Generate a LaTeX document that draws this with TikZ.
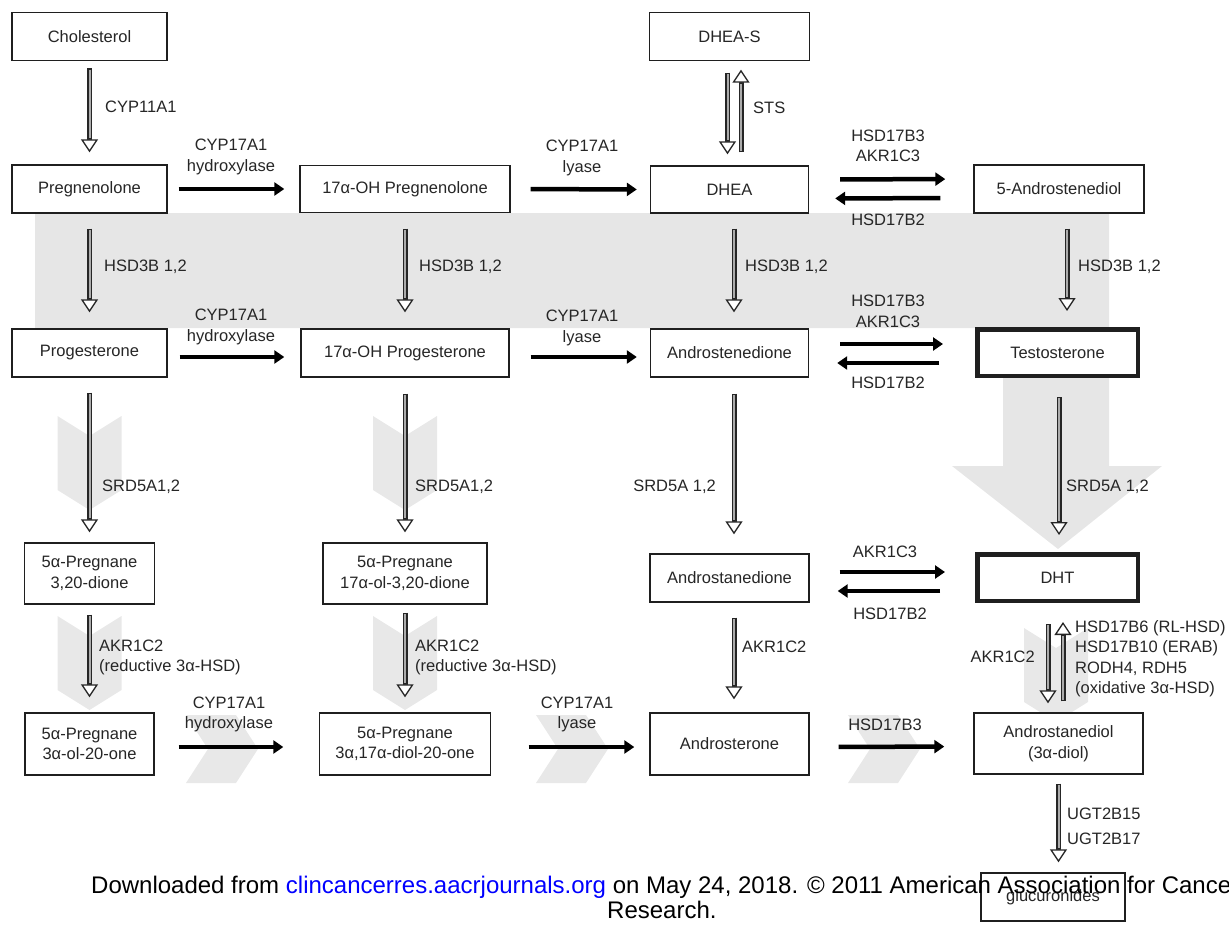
\documentclass[tikz,border=0pt]{standalone}
\usepackage{fontspec}
\setmainfont{Liberation Sans}
\usetikzlibrary{arrows.meta,calc}
\definecolor{bandgray}{HTML}{E6E6E6}
\definecolor{chevgray}{HTML}{E8E8E8}
\definecolor{txt}{HTML}{262626}
\definecolor{linkblue}{HTML}{0000FF}
\newcommand\lbl{\fontsize{16.5}{20.5}\selectfont}
\newcommand\footfont{\fontsize{24}{28}\selectfont}
\tikzset{
 box/.style={draw=black!88, line width=1.4pt, fill=white, inner sep=0pt, align=center, text=txt, font=\lbl},
 thickbox/.style={box, line width=4.5pt},
 lab/.style={inner sep=0pt, text=txt, font=\lbl},
 harr/.style={line width=4.5pt, black, -{Triangle[length=10pt,width=13pt]}},
 vout/.style={line width=5pt, black!85, -{Triangle[length=13pt,width=17pt,line width=1.3pt,fill=white]}},
 vin/.style={line width=2pt, gray!65},
}
\newcommand\VArr[4]{%
 \draw[vout, shorten <=#3, shorten >=#4] #1 -- #2;
 \draw[vin, shorten <=#3+1.3pt, shorten >=#4+14pt] #1 -- #2;}
\newcommand\VChev[2]{\fill[chevgray] ({#1-32},#2) -- (#1,{#2+20}) -- ({#1+32},#2) -- ({#1+32},{#2+74}) -- (#1,{#2+94}) -- ({#1-32},{#2+74}) -- cycle;}
\newcommand\HChev[2]{\fill[chevgray] (#1,#2) -- ({#1+50},#2) -- ({#1+72},{#2+34}) -- ({#1+50},{#2+68}) -- (#1,{#2+68}) -- ({#1+22},{#2+34}) -- cycle;}
\begin{document}
\begin{tikzpicture}[x=1pt,y=-1pt]
\useasboundingbox (0,0) rectangle (1229,924);
% background band and big arrow
\fill[bandgray] (35,213) -- (1109,213) -- (1109,466) -- (1162,466) -- (1058,549) -- (952,466) -- (1003,466) -- (1003,328) -- (35,328) -- cycle;
% chevrons
\VChev{89.5}{416}
\VChev{89.5}{616}
\VChev{405}{416}
\VChev{405}{616}
\VChev{1056}{628}
\HChev{186}{715}
\HChev{536}{715}
\HChev{848}{715}
% boxes column 1
\node[box, minimum width=155pt, minimum height=48pt] (chol) at (89.5,36.5) {Cholesterol};
\node[box, minimum width=155pt, minimum height=48pt] (preg) at (89.5,189) {Pregnenolone};
\node[box, minimum width=155pt, minimum height=48pt] (prog) at (89.5,353) {Progesterone};
\node[box, minimum width=130pt, minimum height=61pt] (p320) at (89.5,573.5) {5α-Pregnane\\3,20-dione};
\node[box, minimum width=129pt, minimum height=62pt] (p3ol) at (89.5,744) {5α-Pregnane\\3α-ol-20-one};
% column 2
\node[box, minimum width=210pt, minimum height=47pt] (ohpreg) at (405,189) {17α-OH Pregnenolone};
\node[box, minimum width=208pt, minimum height=48pt] (ohprog) at (405,353) {17α-OH Progesterone};
\node[box, minimum width=164pt, minimum height=61pt] (p17) at (405,573.5) {5α-Pregnane\\17α-ol-3,20-dione};
\node[box, minimum width=171pt, minimum height=62pt] (p3a17) at (405,744) {5α-Pregnane\\3α,17α-diol-20-one};
% column 3
\node[box, minimum width=160pt, minimum height=48pt] (dheas) at (729.5,36.5) {DHEA-S};
\node[box, minimum width=158pt, minimum height=47pt] (dhea) at (729.5,189.5) {DHEA};
\node[box, minimum width=158pt, minimum height=48pt] (adione) at (729.5,353) {Androstenedione};
\node[box, minimum width=159pt, minimum height=48pt] (astane) at (729.5,578) {Androstanedione};
\node[box, minimum width=159pt, minimum height=62pt] (andro) at (729.5,744) {Androsterone};
% column 4
\node[box, minimum width=170pt, minimum height=48pt] (adiol5) at (1059,189) {5-Androstenediol};
\node[thickbox, minimum width=160.5pt, minimum height=46.5pt] (testo) at (1057.5,352.5) {Testosterone};
\node[thickbox, minimum width=160.5pt, minimum height=46.5pt] (dht) at (1057.5,577.5) {DHT};
\node[box, minimum width=169pt, minimum height=61pt] (adiol) at (1058.5,743.5) {Androstanediol\\(3α-diol)};
\node[box, minimum width=144pt, minimum height=48pt] (gluc) at (1053,897) {glucuronides};
% vertical arrows
\VArr{(chol.south)}{(preg.north)}{7pt}{12pt}
\VArr{(preg.south)}{(prog.north)}{15pt}{16pt}
\VArr{(prog.south)}{(p320.north)}{15pt}{10pt}
\VArr{(p320.south)}{(p3ol.north)}{10pt}{15pt}
\VArr{(ohpreg.south)}{(ohprog.north)}{15.5pt}{16pt}
\VArr{(ohprog.south)}{(p17.north)}{16pt}{10pt}
\VArr{(p17.south)}{(p3a17.north)}{8pt}{15pt}
\VArr{([xshift=-2pt]dheas.south)}{([xshift=-2pt]dhea.north)}{11.5pt}{11pt}
\VArr{([xshift=11.5pt]dhea.north)}{([xshift=11.5pt]dheas.south)}{13pt}{8.5pt}
\VArr{([xshift=4.5pt]dhea.south)}{([xshift=4.5pt]adione.north)}{15pt}{16pt}
\VArr{([xshift=4.5pt]adione.south)}{([xshift=4.5pt]astane.north)}{16pt}{19pt}
\VArr{([xshift=4.5pt]astane.south)}{([xshift=4.5pt]andro.north)}{15pt}{13pt}
\VArr{([xshift=8pt]adiol5.south)}{([xshift=9.5pt]testo.north)}{15pt}{16pt}
\VArr{([xshift=1.5pt]testo.south)}{([xshift=1.5pt]dht.north)}{19pt}{17pt}
\VArr{([xshift=-9.5pt]dht.south)}{([xshift=-10.5pt]adiol.north)}{21pt}{9pt}
\VArr{([xshift=4.5pt]adiol.north)}{([xshift=5.5pt]dht.south)}{11pt}{19pt}
\VArr{(adiol.south)}{(adiol.south |- gluc.north)}{9pt}{10pt}
% horizontal arrows
\draw[harr, shorten <=11pt, shorten >=15pt] (preg.east) -- (ohpreg.west);
\draw[harr, shorten <=20pt, shorten >=13pt] (ohpreg.east) -- (dhea.west);
\draw[harr, shorten <=31pt, shorten >=28pt] ([yshift=10pt]dhea.east) -- ([yshift=10pt]adiol5.west);
\draw[harr, shorten <=33pt, shorten >=26pt] ([yshift=-9pt]adiol5.west) -- ([yshift=-9pt]dhea.east);
\draw[harr, shorten <=12pt, shorten >=16pt] ([yshift=-4pt]prog.east) -- ([yshift=-4pt]ohprog.west);
\draw[harr, shorten <=21pt, shorten >=13pt] ([yshift=-4pt]ohprog.east) -- ([yshift=-4pt]adione.west);
\draw[harr, shorten <=31pt, shorten >=32pt] ([yshift=9pt]adione.east) -- ([yshift=8.5pt]testo.west);
\draw[harr, shorten <=36pt, shorten >=28pt] ([yshift=-10.5pt]testo.west) -- ([yshift=-10pt]adione.east);
\draw[harr, shorten <=30pt, shorten >=30pt] ([yshift=6pt]astane.east) -- ([yshift=5.5pt]dht.west);
\draw[harr, shorten <=35pt, shorten >=28pt] ([yshift=-13.5pt]dht.west) -- ([yshift=-13pt]astane.east);
\draw[harr, shorten <=24pt, shorten >=35.5pt] ([yshift=-3pt]p3ol.east) -- ([yshift=-3pt]p3a17.west);
\draw[harr, shorten <=37.5pt, shorten >=15pt] ([yshift=-3pt]p3a17.east) -- ([yshift=-3pt]andro.west);
\draw[harr, shorten <=29pt, shorten >=29pt] ([yshift=-3pt]andro.east) -- ([yshift=-3pt]adiol.west);
% labels
\node[lab, anchor=west] (l1) at (105,107) {CYP11A1};
\node[lab, align=center] (l2) at (231,157) {CYP17A1\\hydroxylase};
\node[lab, align=center] (l3) at (582,158) {CYP17A1\\lyase};
\node[lab, anchor=west] (l4) at (753,108) {STS};
\node[lab, align=center] (l5) at (888,146) {HSD17B3\\AKR1C3};
\node[lab] (l6) at (888,220) {HSD17B2};
\node[lab, anchor=west] (l7) at (104,267) {HSD3B 1,2};
\node[lab, anchor=west] (l8) at (419,267) {HSD3B 1,2};
\node[lab, anchor=west] (l9) at (745,267) {HSD3B 1,2};
\node[lab, anchor=west] (l10) at (1078,267) {HSD3B 1,2};
\node[lab, align=center] (l11) at (231,327) {CYP17A1\\hydroxylase};
\node[lab, align=center] (l12) at (582,328) {CYP17A1\\lyase};
\node[lab, align=center] (l13) at (888,311.5) {HSD17B3\\AKR1C3};
\node[lab] (l14) at (888,383) {HSD17B2};
\node[lab, anchor=west] (l15) at (102,487) {SRD5A1,2};
\node[lab, anchor=west] (l16) at (415,487) {SRD5A1,2};
\node[lab, anchor=east] (l17) at (716,487) {SRD5A 1,2};
\node[lab, anchor=west] (l18) at (1066,487) {SRD5A 1,2};
\node[lab] (l19) at (885,552) {AKR1C3};
\node[lab] (l20) at (890,614) {HSD17B2};
\node[lab, anchor=west, align=left] (l21) at (99,657.5) {AKR1C2\\(reductive 3α-HSD)};
\node[lab, anchor=west, align=left] (l22) at (415,657.5) {AKR1C2\\(reductive 3α-HSD)};
\node[lab, anchor=west] (l23) at (742,647) {AKR1C2};
\node[lab, anchor=east] (l24) at (1035,657) {AKR1C2};
\node[lab, anchor=west, align=left] (l25) at (1075,658.5) {HSD17B6 (RL-HSD)\\HSD17B10 (ERAB)\\RODH4, RDH5\\(oxidative 3α-HSD)};
\node[lab, align=center] (l26) at (229,714.5) {CYP17A1\\hydroxylase};
\node[lab, align=center] (l27) at (577,714.5) {CYP17A1\\lyase};
\node[lab] (l28) at (885,725) {HSD17B3};
\node[lab, anchor=west, align=left, font=\fontsize{16.5}{25}\selectfont] (l29) at (1067,826.5) {UGT2B15\\UGT2B17};
% footer
\node[inner sep=0pt, anchor=base west, font=\footfont] (foot1) at (91,893) {Downloaded from \textcolor{linkblue}{clincancerres.aacrjournals.org} on May 24, 2018. © 2011 American Association for Cancer};
\node[inner sep=0pt, anchor=base west, font=\footfont] (foot2) at (607,918) {Research.};
\end{tikzpicture}
\end{document}
